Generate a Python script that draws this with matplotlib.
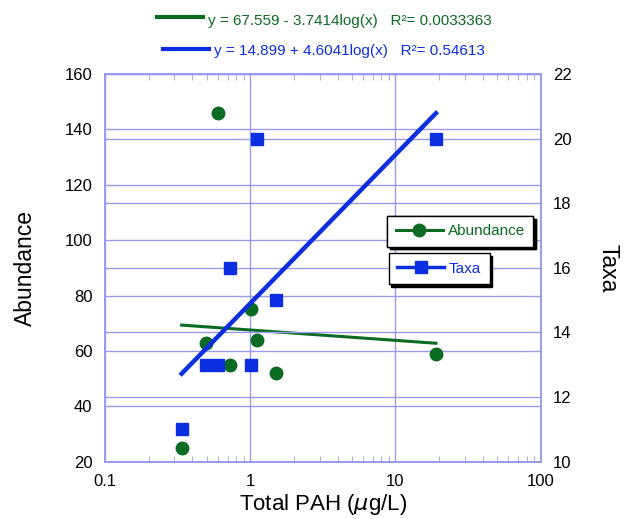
import matplotlib
matplotlib.use('Agg')
import matplotlib.pyplot as plt
from matplotlib.lines import Line2D
from matplotlib.ticker import LogLocator, NullFormatter, FixedLocator
import numpy as np

plt.rcParams['font.family'] = ['Liberation Sans', 'DejaVu Sans']

# data
pah = [0.337, 0.494, 0.60, 0.73, 1.01, 1.11, 1.5, 19.0]   # ug/L
abundance = [25, 63, 146, 55, 75, 64, 52, 59]
taxa = [11, 13, 13, 16, 13, 20, 15, 20]

# log fits shown at the top
ab_a, ab_b, ab_r2 = 67.559, -3.7414, 0.0033363
tx_a, tx_b, tx_r2 = 14.899, 4.6041, 0.54613

green = '#0b6b22'
blue = '#0b2fe0'
gridc = '#9a9aee'

fig = plt.figure(figsize=(6.31, 5.19), dpi=100)
ax = fig.add_axes([0.1664, 0.1104, 0.6905, 0.7470])
ax2 = ax.twinx()

ax.set_xscale('log')
ax.set_xlim(0.1, 100)
ax.set_ylim(20, 160)
ax2.set_ylim(10, 22)

ax.xaxis.set_major_locator(FixedLocator([0.1, 1, 10, 100]))
ax.xaxis.set_major_formatter(plt.FuncFormatter(lambda v, p: '%g' % v))
ax.xaxis.set_minor_locator(LogLocator(base=10, subs=np.arange(2, 10)))
ax.xaxis.set_minor_formatter(NullFormatter())
ax.set_yticks(np.arange(20, 161, 20))
ax2.set_yticks(np.arange(10, 23, 2))

for a in (ax, ax2):
    for s in a.spines.values():
        s.set_color(gridc)
        s.set_linewidth(1.2)
ax.tick_params(axis='x', which='minor', direction='in', length=4, color=gridc, top=True)
ax.tick_params(axis='x', which='major', direction='in', length=0, pad=9, labelsize=12)
ax.tick_params(axis='y', length=0, pad=9, labelsize=12)
ax2.tick_params(axis='y', length=0, pad=9, labelsize=12)

ax.grid(True, which='major', axis='both', color=gridc, linewidth=1)
ax2.grid(True, axis='y', color=gridc, linewidth=1)
ax.set_axisbelow(True)

# fit lines
xx = np.logspace(np.log10(min(pah)), np.log10(max(pah)), 50)
ax.plot(xx, ab_a + ab_b * np.log10(xx), color=green, lw=2.2, zorder=3)
ax2.plot(xx, tx_a + tx_b * np.log10(xx), color=blue, lw=3.2, zorder=3)

ax.plot(pah, abundance, 'o', color=green, ms=9, zorder=4)
ax2.plot(pah, taxa, 's', color=blue, ms=9, zorder=4)

ax.set_xlabel('Total PAH ($\\mu$g/L)', fontsize=16, labelpad=2)
ax.set_ylabel('Abundance', fontsize=16.5, labelpad=20)
ax2.set_ylabel('Taxa', fontsize=16.5, rotation=-90, labelpad=34)

# legends with hard drop shadow
h1 = Line2D([], [], color=green, lw=2.2, marker='o', ms=9)
h2 = Line2D([], [], color=blue, lw=2.5, marker='s', ms=9)
shadow = {'color': 'black', 'alpha': 1}
leg1 = ax.legend([h1], ['Abundance'], loc='upper left', bbox_to_anchor=(0.648, 0.634),
                 frameon=True, fancybox=False, shadow=shadow, framealpha=1,
                 edgecolor='black', handlelength=3.1, fontsize=11,
                 borderpad=0.55, handletextpad=0.3, borderaxespad=0)
leg1.get_frame().set_linewidth(1)
for t in leg1.get_texts():
    t.set_color(green)
ax.add_artist(leg1)
leg2 = ax2.legend([h2], ['Taxa'], loc='upper left', bbox_to_anchor=(0.651, 0.5375),
                  frameon=True, fancybox=False, shadow=shadow, framealpha=1,
                  edgecolor='black', handlelength=3.1, fontsize=11,
                  borderpad=0.55, handletextpad=0.3, borderaxespad=0)
leg2.get_frame().set_linewidth(1)
for t in leg2.get_texts():
    t.set_color(blue)

# equations above the plot
W, H = 631.0, 519.0
fig.add_artist(Line2D([156.7 / W, 202.7 / W], [1 - 17.3 / H] * 2, color=green, lw=3))
fig.text(208 / W, 1 - 20.5 / H,
         'y = %.3f - %.4flog(x)   R²= %.7f' % (ab_a, abs(ab_b), ab_r2),
         color=green, fontsize=11, va='center', ha='left')
fig.add_artist(Line2D([163 / W, 209 / W], [1 - 49.3 / H] * 2, color=blue, lw=3))
fig.text(214 / W, 1 - 51.5 / H,
         'y = %.3f + %.4flog(x)   R²= %.5f' % (tx_a, tx_b, tx_r2),
         color=blue, fontsize=11, va='center', ha='left')

fig.savefig('out.png', dpi=100)
